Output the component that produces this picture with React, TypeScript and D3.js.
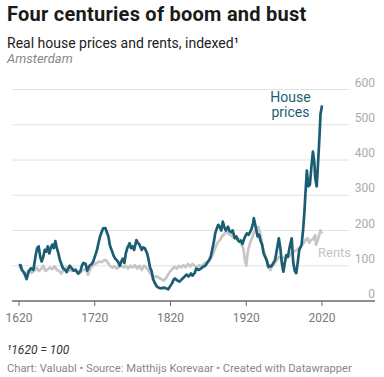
import React from "react";
import * as d3 from "d3";

const yTicks = [0, 100, 200, 300, 400, 500, 600];
const xTicks = [1620, 1720, 1820, 1920, 2020];

const houseYears = [1620,1622,1624,1627,1630,1633,1636,1639,1642,1644,1646,1648,1650,1652,1654,1656,1658,1660,1662,1664,1666,1668,1670,1672,1674,1676,1678,1681,1683,1685,1687,1689,1692,1695,1698,1701,1703,1705,1708,1710,1713,1716,1718,1720,1723,1725,1727,1729,1731,1734,1736,1738,1740,1743,1745,1747,1749,1751,1753,1755,1757,1759,1761,1763,1766,1768,1770,1772,1775,1777,1779,1782,1784,1786,1789,1791,1793,1795,1797,1800,1802,1805,1808,1811,1814,1817,1819,1822,1824,1826,1829,1832,1835,1838,1841,1844,1847,1849,1852,1854,1857,1860,1863,1866,1869,1871,1873,1875,1877,1879,1881,1883,1885,1887,1889,1891,1893,1896,1898,1900,1902,1905,1907,1909,1911,1913,1915,1917,1919,1921,1923,1925,1927,1929,1930,1932,1935,1937,1939,1941,1943,1945,1947,1949,1951,1953,1955,1958,1960,1963,1965,1967,1969,1971,1973,1975,1977,1980,1982,1984,1986,1988,1990,1993,1995,1997,1998,2000,2002,2004,2006,2008,2010,2011,2013,2015,2017,2018,2020];
const houseValues = [100,102,88,80,62,85,93,88,130,150,155,125,112,125,145,140,155,135,150,160,150,170,150,135,116,105,93,88,82,92,100,95,86,88,78,85,100,108,105,86,100,105,112,125,145,165,183,195,206,207,195,183,158,140,128,120,116,110,100,112,120,108,135,150,164,150,155,145,173,165,160,145,152,150,136,118,95,85,62,48,41,37,36,38,36,33,40,50,60,64,58,55,62,68,75,70,78,72,80,92,88,92,97,100,110,116,125,145,165,192,205,216,210,200,225,210,200,211,198,195,200,178,183,172,168,172,162,175,185,192,188,195,205,220,235,215,183,188,170,159,135,125,116,97,100,98,105,116,140,178,150,107,83,110,130,125,150,178,110,85,79,110,145,159,200,260,300,370,325,330,380,424,390,350,325,400,480,530,555];

const rentYears = [1620,1623,1626,1628,1631,1634,1637,1640,1643,1646,1649,1652,1655,1658,1661,1664,1667,1670,1673,1676,1679,1682,1685,1688,1691,1694,1697,1700,1703,1706,1709,1711,1714,1717,1720,1723,1726,1729,1732,1734,1737,1740,1743,1746,1749,1752,1755,1758,1761,1764,1767,1770,1773,1776,1779,1782,1785,1788,1790,1793,1796,1799,1802,1805,1808,1811,1814,1817,1820,1822,1825,1828,1831,1834,1837,1840,1843,1846,1849,1852,1855,1858,1861,1864,1867,1870,1873,1876,1879,1882,1885,1888,1891,1894,1897,1900,1903,1906,1909,1912,1914,1916,1918,1920,1922,1925,1928,1930,1933,1936,1938,1940,1942,1944,1946,1948,1950,1952,1954,1957,1960,1963,1966,1969,1972,1975,1978,1981,1984,1987,1990,1993,1996,1999,2001,2003,2005,2008,2011,2012,2014,2016,2018,2020];
const rentValues = [100,90,80,72,82,88,80,85,95,85,90,100,85,90,95,90,98,88,85,78,90,95,92,85,88,92,80,78,85,90,88,74,92,100,105,108,112,110,115,117,110,100,95,98,92,97,100,95,100,92,100,95,102,92,100,88,100,95,90,80,72,68,70,65,62,58,65,75,85,90,97,92,100,95,102,96,105,98,105,100,95,102,98,105,110,112,120,132,150,165,172,183,190,197,190,186,180,180,178,172,160,150,120,100,140,165,180,195,200,210,195,175,150,135,120,110,92,88,100,105,115,125,120,122,128,125,130,138,142,145,150,158,165,175,178,165,172,175,187,160,170,185,200,192];

const W = 384;
const H = 377;

export default function App() {
  const x = d3.scaleLinear().domain([1620, 2020]).range([19, 322]);
  const y = d3.scaleLinear().domain([0, 600]).range([301, 89.5]);
  const line = d3
    .line<[number, number]>()
    .x((d) => x(d[0]))
    .y((d) => y(d[1]));
  const house: [number, number][] = houseYears.map((yr, i) => [yr, houseValues[i]]);
  const rent: [number, number][] = rentYears.map((yr, i) => [yr, rentValues[i]]);
  const font = "Roboto, 'Noto Sans', sans-serif";

  return (
    <div style={{ position: "fixed", left: 0, top: 0, width: W, height: H, background: "#fff" }}>
      <svg width={W} height={H} style={{ display: "block", fontFamily: font }}>
        <text x={7} y={21} fontSize={20} fontWeight={700} fill="#1a1a1a" letterSpacing={0.25}>
          Four centuries of boom and bust
        </text>
        <text x={7} y={48} fontSize={14} fill="#222">
          Real house prices and rents, indexed¹
        </text>
        <text x={7} y={63} fontSize={13} fontStyle="italic" fill="#888">
          Amsterdam
        </text>

        {yTicks.slice(1).map((t) => (
          <line key={t} x1={12} x2={349} y1={y(t)} y2={y(t)} stroke="#e2e2e2" strokeWidth={1} />
        ))}
        {yTicks.map((t) => (
          <text key={t} x={375} y={y(t) - 3} fontSize={12} fill="#aaa" textAnchor="end">
            {t}
          </text>
        ))}

        <path d={line(rent) || ""} fill="none" stroke="#c6c6c6" strokeWidth={2.7} strokeLinejoin="round" />
        <path d={line(house) || ""} fill="none" stroke="#1b5e73" strokeWidth={2.7} strokeLinejoin="round" />

        <line x1={12} x2={375} y1={301} y2={301} stroke="#6b6b6b" strokeWidth={1.5} />
        {xTicks.map((t) => (
          <g key={t}>
            <line x1={x(t)} x2={x(t)} y1={301} y2={306} stroke="#6b6b6b" strokeWidth={1} />
            <text x={x(t)} y={322} fontSize={12} fill="#777" textAnchor="middle">
              {t}
            </text>
          </g>
        ))}

        <text x={290.5} y={102} fontSize={14} fill="#1b5e73" textAnchor="middle">House</text>
        <text x={290.5} y={116.5} fontSize={14} fill="#1b5e73" textAnchor="middle">prices</text>
        <text x={318} y={256.5} fontSize={13} fill="#c4c4c4">Rents</text>

        <text x={7} y={353.5} fontSize={12} fontStyle="italic" fill="#333">
          ¹1620 = 100
        </text>
        <text x={7} y={372} fontSize={11.2} fill="#888">
          Chart: Valuabl • Source: Matthijs Korevaar • Created with Datawrapper
        </text>
      </svg>
    </div>
  );
}
